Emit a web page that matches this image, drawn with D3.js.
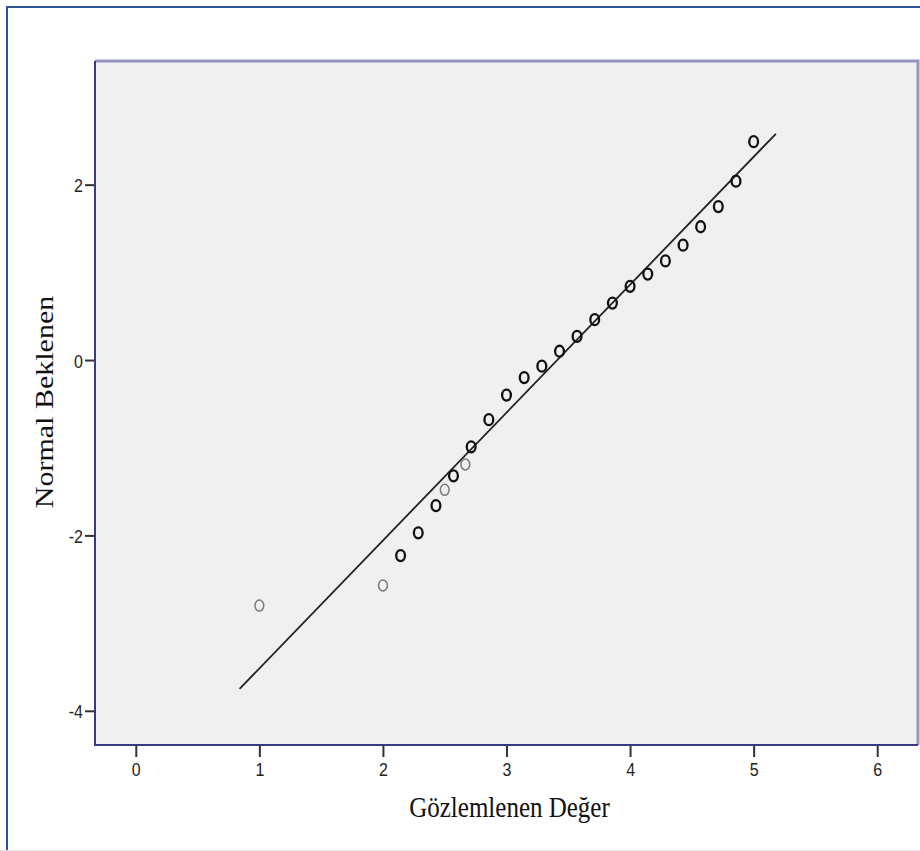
<!DOCTYPE html>
<html>
<head>
<meta charset="utf-8">
<script src="https://cdn.jsdelivr.net/npm/d3@7"></script>
<style>
  body { margin: 0; background: #fff; }
  svg { display: block; }
</style>
</head>
<body>
<svg id="chart"></svg>
<script>
// Observed scale scores (x) and their expected normal values (y)
const observed = [1.0, 2.0, 2.143, 2.286, 2.429, 2.5, 2.571, 2.667, 2.714, 2.857, 3.0, 3.143, 3.286,
  3.429, 3.571, 3.714, 3.857, 4.0, 4.143, 4.286, 4.429, 4.571, 4.714, 4.857, 5.0];
const expected = [-2.80, -2.57, -2.23, -1.97, -1.66, -1.48, -1.32, -1.19, -0.99, -0.68, -0.40, -0.20, -0.07,
  0.10, 0.27, 0.46, 0.65, 0.84, 0.98, 1.13, 1.31, 1.52, 1.75, 2.04, 2.49];
// single cases draw lighter than stacked ones
const caseCount = [1, 1, 2, 2, 2, 1, 2, 1, 2, 2, 2, 2, 2, 2, 2, 2, 2, 2, 2, 2, 2, 2, 2, 2, 2];

// reference line ends
const refLineX = [0.84, 5.18];
const refLineY = [-3.75, 2.58];

const xTicks = [0, 1, 2, 3, 4, 5, 6];
const yTicks = [-4, -2, 0, 2];

const xTitle = "Gözlemlenen Değer";
const yTitle = "Normal Beklenen";

const W = 920, H = 851;
const plot = { left: 95, right: 918, top: 61, bottom: 745 };
const STRETCH = 1.2; // picture is a bit taller than wide

const svg = d3.select("#chart").attr("width", W).attr("height", H);

// outer frame (only left & top visible)
svg.append("path")
  .attr("d", `M7,${H} L7,7 L${W},7`)
  .attr("fill", "none")
  .attr("stroke", "#2a5592")
  .attr("stroke-width", 2);
svg.append("line")
  .attr("x1", 0).attr("x2", W).attr("y1", 850.5).attr("y2", 850.5)
  .attr("stroke", "#e4e4e4");

const x = d3.scaleLinear().domain([-0.33, 6.33]).range([plot.left, plot.right]);
const y = d3.scaleLinear().domain([-4.39, 3.41]).range([plot.bottom, plot.top]);

// plot background
svg.append("rect")
  .attr("x", plot.left).attr("y", plot.top)
  .attr("width", plot.right - plot.left)
  .attr("height", plot.bottom - plot.top)
  .attr("fill", "#f0f0f0");

// top / right edges lighter
svg.append("path")
  .attr("d", `M${plot.left},${plot.top} L${plot.right},${plot.top} L${plot.right},${plot.bottom}`)
  .attr("fill", "none")
  .attr("stroke", "#9696bd")
  .attr("stroke-width", 3);

// axes (plain hyphen for negatives, like the original)
const fmt = d => String(d);

const xAxis = svg.append("g")
  .attr("transform", `translate(0,${plot.bottom})`)
  .call(d3.axisBottom(x).tickValues(xTicks).tickSize(12).tickFormat(fmt));

const yAxis = svg.append("g")
  .attr("transform", `translate(${plot.left},0)`)
  .call(d3.axisLeft(y).tickValues(yTicks).tickSize(10).tickFormat(fmt));

[xAxis, yAxis].forEach(ax => {
  ax.select(".domain").remove();
  ax.selectAll(".tick line").attr("stroke", "#333").attr("stroke-width", 2);
  ax.selectAll(".tick text")
    .attr("fill", "#222")
    .style("font-family", "'Liberation Sans', Arial, sans-serif")
    .style("font-size", "16px");
});

xAxis.selectAll(".tick text")
  .attr("y", 0).attr("dy", null)
  .attr("transform", `translate(0,31) scale(1,${STRETCH})`);

yAxis.selectAll(".tick text")
  .attr("x", 0).attr("dy", null)
  .attr("transform", `translate(-12,7) scale(1,${STRETCH})`)
  .attr("text-anchor", "end");

// left / bottom edges dark
svg.append("path")
  .attr("d", `M${plot.left},${plot.top} L${plot.left},${plot.bottom} L${plot.right},${plot.bottom}`)
  .attr("fill", "none")
  .attr("stroke", "#3a3a82")
  .attr("stroke-width", 2);

// reference line
svg.append("line")
  .attr("x1", x(refLineX[0])).attr("y1", y(refLineY[0]))
  .attr("x2", x(refLineX[1])).attr("y2", y(refLineY[1]))
  .attr("stroke", "#222")
  .attr("stroke-width", 1.8);

// points
const points = observed.map((v, i) => ({ x: v, y: expected[i], n: caseCount[i] }));

svg.append("g")
  .selectAll("ellipse")
  .data(points)
  .enter()
  .append("ellipse")
    .attr("cx", d => x(d.x))
    .attr("cy", d => y(d.y))
    .attr("rx", 4.4)
    .attr("ry", 5.5)
    .attr("fill", "none")
    .attr("stroke", d => d.n > 1 ? "#111" : "#7a7a7a")
    .attr("stroke-width", d => d.n > 1 ? 2.3 : 1.5);

// axis titles
svg.append("text")
  .attr("transform", `translate(${(plot.left + plot.right) / 2 + 3},817) scale(1,${STRETCH})`)
  .attr("text-anchor", "middle")
  .style("font-family", "'Liberation Serif', 'Times New Roman', serif")
  .style("font-size", "25px")
  .attr("fill", "#111")
  .text(xTitle);

svg.append("text")
  .attr("transform", `translate(53,402) scale(1,${STRETCH}) rotate(-90)`)
  .attr("text-anchor", "middle")
  .style("font-family", "'Liberation Serif', 'Times New Roman', serif")
  .style("font-size", "25px")
  .attr("fill", "#111")
  .text(yTitle);
</script>
</body>
</html>
